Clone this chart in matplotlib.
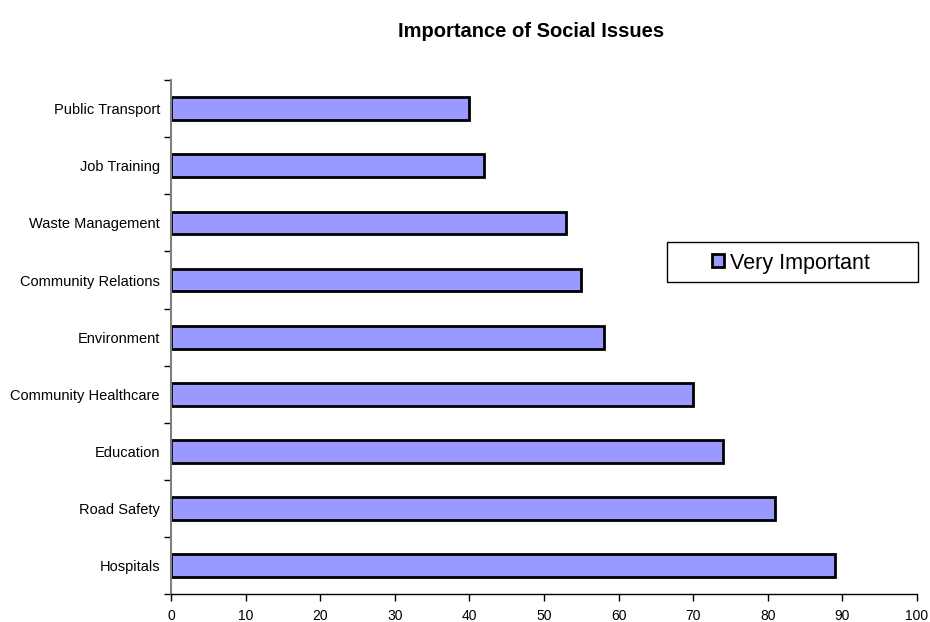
import matplotlib
matplotlib.use("Agg")
import matplotlib.pyplot as plt
from matplotlib.patches import Patch, Rectangle
import numpy as np

plt.rcParams['font.family'] = ['Liberation Sans', 'DejaVu Sans']

categories = ["Public Transport", "Job Training", "Waste Management",
              "Community Relations", "Environment", "Community Healthcare",
              "Education", "Road Safety", "Hospitals"]
very_important = [40, 42, 53, 55, 58, 70, 74, 81, 89]
x_ticks = [0, 10, 20, 30, 40, 50, 60, 70, 80, 90, 100]

fig = plt.figure(figsize=(9.3, 6.22), dpi=100)
ax = fig.add_axes([0.1839, 0.045, 0.802, 0.826])

pos = np.arange(len(categories))
ax.barh(pos, very_important, height=0.4, color="#9999FF",
        edgecolor="black", linewidth=2, label="Very Important")

ax.set_ylim(len(categories) - 0.5, -0.5)
ax.set_xlim(0, 100)

ax.set_yticks(pos)
ax.set_yticklabels(categories, fontsize=10.5)
ax.set_yticks(np.arange(-0.5, len(categories)), minor=True)
ax.tick_params(axis='y', which='major', length=0, pad=8)
ax.tick_params(axis='y', which='minor', length=5, width=1, color='black', direction='out')

ax.set_xticks(x_ticks)
ax.tick_params(axis='x', length=5, width=1, direction='out', pad=6, labelsize=10)

for s in ['top', 'right']:
    ax.spines[s].set_visible(False)
ax.spines['left'].set_color('#808080')
ax.spines['left'].set_linewidth(1.5)
ax.spines['bottom'].set_color('black')
ax.spines['bottom'].set_linewidth(1)

fig.text(0.571, 0.950, "Importance of Social Issues", ha='center', va='center',
         fontsize=14.5, fontweight='bold')

# legend frame, then the entry inside it
fig.patches.append(Rectangle((667 / 930, 1 - 282 / 622), 251 / 930, 40 / 622,
                             transform=fig.transFigure, facecolor='white',
                             edgecolor='black', linewidth=1, zorder=3))
handle = Patch(facecolor="#9999FF", edgecolor="black", linewidth=2)
leg = fig.legend([handle], ["Very Important"], loc='center left',
                 bbox_to_anchor=(712 / 930, 1 - 263 / 622), frameon=False,
                 fontsize=15.5, handlelength=0.55, handleheight=0.55,
                 handletextpad=0.3, borderpad=0, borderaxespad=0)
leg.set_zorder(4)

fig.savefig("out.png", dpi=100)
